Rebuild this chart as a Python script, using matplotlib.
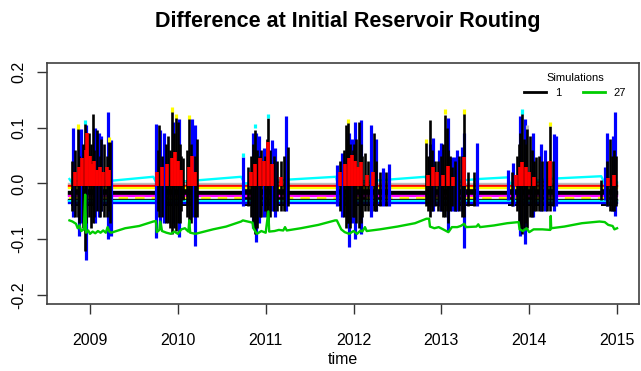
import matplotlib
matplotlib.use('Agg')
import matplotlib.pyplot as plt
from matplotlib.lines import Line2D

plt.rcParams['font.family'] = ['Liberation Sans', 'DejaVu Sans']

# R default palette
black, red, green3, blue = 'black', '#FF0000', '#00CD00', '#0000FF'
cyan, magenta, yellow, gray = '#00FFFF', '#FF00FF', '#FFFF00', '#BEBEBE'

years = [2009, 2010, 2011, 2012, 2013, 2014, 2015]
yticks = [-0.2, -0.1, 0.0, 0.1, 0.2]
t_first, t_last = 2008.766, 2015.0

# simulations that stay nearly flat
flat_levels = [-0.001, -0.005, -0.008, -0.015, -0.019, -0.023, -0.026, -0.029, -0.032, -0.035]
flat_colors = [gray, red, yellow, black, black, magenta, yellow, black, cyan, blue]

# upper cyan simulation
cyan_t = [2008.766, 2008.80, 2009.25, 2009.72, 2009.76, 2010.25, 2010.72, 2010.76, 2011.26,
          2011.80, 2011.82, 2012.40, 2012.82, 2012.84, 2013.42, 2013.76, 2013.78, 2014.30,
          2014.82, 2014.86, 2015.0]
cyan_v = [0.008, 0.0, 0.005, 0.012, 0.0, 0.006, 0.012, 0.0, 0.007,
          0.012, 0.0, 0.007, 0.012, 0.0, 0.008, 0.011, 0.0, 0.009,
          0.013, 0.0, 0.002]

# wet season periods
event_start = [2008.78, 2009.74, 2010.74, 2011.80, 2012.82, 2013.76, 2014.82]
event_end = [2009.245, 2010.23, 2011.26, 2012.41, 2013.41, 2014.31, 2015.0]
red_start = [2008.82, 2009.75, 2010.80, 2011.84, 2012.84, 2013.84, 2014.88]
red_end = [2009.24, 2010.22, 2011.20, 2012.25, 2013.27, 2014.25, 2014.99]

# spikes: (time, top, bottom)
blue_spikes = [
    (2008.81, 0.099, -0.06), (2008.87, 0.095, -0.094), (2008.90, 0.097, -0.07),
    (2008.95, 0.105, -0.136), (2009.06, 0.100, -0.07), (2009.10, 0.090, -0.06),
    (2009.125, 0.085, -0.05), (2009.20, 0.128, -0.100), (2009.24, 0.078, -0.093),
    (2009.75, 0.107, -0.098), (2009.80, 0.095, -0.08), (2009.84, 0.090, -0.07),
    (2009.95, 0.110, -0.07), (2010.01, 0.115, -0.096), (2010.16, 0.115, -0.06),
    (2010.20, 0.105, -0.111),
    (2010.74, 0.048, -0.04), (2010.85, 0.090, -0.08), (2010.89, 0.090, -0.105),
    (2010.92, 0.085, -0.07), (2010.98, 0.064, -0.06), (2011.07, 0.078, -0.05),
    (2011.11, 0.064, -0.06), (2011.23, 0.120, -0.05),
    (2011.81, 0.033, -0.04), (2011.87, 0.055, -0.06), (2011.95, 0.090, -0.113),
    (2011.98, 0.079, -0.07), (2012.02, 0.110, -0.100), (2012.08, 0.113, -0.09),
    (2012.20, 0.105, -0.06), (2012.26, 0.080, -0.05), (2012.34, 0.028, -0.04),
    (2012.40, 0.034, -0.04),
    (2012.87, 0.070, -0.04), (2012.91, 0.081, -0.05), (2012.97, 0.060, -0.04),
    (2013.00, 0.073, -0.05), (2013.08, 0.117, -0.085), (2013.12, 0.048, -0.05),
    (2013.15, 0.048, -0.05), (2013.18, 0.060, -0.05), (2013.23, 0.066, -0.05),
    (2013.26, 0.090, -0.115), (2013.40, 0.072, -0.04),
    (2013.76, 0.025, -0.03), (2013.82, 0.036, -0.04), (2013.89, 0.120, -0.094),
    (2013.95, 0.115, -0.109), (2014.04, 0.090, -0.06), (2014.13, 0.070, -0.05),
    (2014.18, 0.060, -0.05), (2014.28, 0.088, -0.05), (2014.31, 0.085, -0.04),
    (2014.86, 0.030, -0.03), (2014.89, 0.090, -0.04), (2014.95, 0.085, -0.05),
    (2014.975, 0.128, -0.059),
]
black_spikes = [
    (2008.80, 0.040, -0.05), (2008.86, 0.102, -0.06), (2008.92, 0.070, -0.08),
    (2008.945, 0.111, -0.121), (2008.99, 0.090, -0.06), (2009.03, 0.125, -0.07),
    (2009.08, 0.095, -0.05), (2009.16, 0.070, -0.06), (2009.22, 0.080, -0.05),
    (2009.23, 0.075, -0.07),
    (2009.79, 0.105, -0.06), (2009.89, 0.085, -0.07), (2009.935, 0.132, -0.09),
    (2009.975, 0.120, -0.085), (2010.00, 0.110, -0.07), (2010.06, 0.045, -0.03),
    (2010.125, 0.118, -0.07), (2010.22, 0.080, -0.06),
    (2010.80, 0.030, -0.04), (2010.88, 0.095, -0.09), (2010.95, 0.060, -0.06),
    (2011.03, 0.117, -0.07), (2011.09, 0.050, -0.05), (2011.17, 0.040, -0.05),
    (2011.25, 0.066, -0.04),
    (2011.91, 0.105, -0.08), (2011.94, 0.110, -0.07), (2012.00, 0.070, -0.06),
    (2012.06, 0.110, -0.08), (2012.13, 0.055, -0.05), (2012.23, 0.090, -0.05),
    (2012.30, 0.020, -0.04),
    (2012.83, 0.075, -0.04), (2012.87, 0.114, -0.06), (2012.93, 0.040, -0.04),
    (2013.04, 0.123, -0.06), (2013.06, 0.100, -0.05), (2013.12, 0.030, -0.04),
    (2013.26, 0.128, -0.06),
    (2013.86, 0.050, -0.05), (2013.92, 0.128, -0.09), (2013.975, 0.100, -0.08),
    (2014.01, 0.085, -0.06), (2014.08, 0.048, -0.05), (2014.24, 0.102, -0.05),
    (2014.82, 0.007, -0.03), (2014.92, 0.080, -0.05), (2014.99, 0.049, -0.04),
]
# shorter black strokes that fill the body of each wet season
black_body = [
    (2008.83, 0.06, -0.06), (2008.88, 0.05, -0.07), (2008.96, 0.08, -0.07), (2009.01, 0.07, -0.08),
    (2009.05, 0.06, -0.06), (2009.11, 0.05, -0.06), (2009.13, 0.08, -0.05), (2009.19, 0.05, -0.06),
    (2009.77, 0.06, -0.05), (2009.82, 0.05, -0.06), (2009.86, 0.07, -0.07), (2009.91, 0.06, -0.08),
    (2009.955, 0.09, -0.08), (2010.02, 0.07, -0.07), (2010.04, 0.05, -0.05), (2010.10, 0.06, -0.06),
    (2010.15, 0.07, -0.07), (2010.19, 0.05, -0.06),
    (2010.83, 0.05, -0.06), (2010.86, 0.07, -0.07), (2010.90, 0.06, -0.08), (2010.93, 0.05, -0.06),
    (2010.99, 0.05, -0.05), (2011.01, 0.08, -0.06), (2011.05, 0.06, -0.06), (2011.13, 0.04, -0.05),
    (2011.21, 0.05, -0.05),
    (2011.85, 0.04, -0.05), (2011.89, 0.06, -0.06), (2011.925, 0.08, -0.07), (2011.96, 0.07, -0.08),
    (2011.99, 0.06, -0.06), (2012.03, 0.08, -0.07), (2012.08, 0.07, -0.07), (2012.10, 0.05, -0.06),
    (2012.17, 0.04, -0.05), (2012.26, 0.04, -0.05), (2012.37, 0.02, -0.04),
    (2012.85, 0.05, -0.05), (2012.89, 0.06, -0.05), (2012.96, 0.04, -0.05), (2013.00, 0.05, -0.05),
    (2013.02, 0.07, -0.06), (2013.08, 0.06, -0.07), (2013.10, 0.05, -0.05), (2013.16, 0.04, -0.05),
    (2013.20, 0.05, -0.05), (2013.24, 0.05, -0.06), (2013.30, 0.02, -0.04), (2013.37, 0.02, -0.04),
    (2013.80, 0.02, -0.04), (2013.88, 0.07, -0.07), (2013.90, 0.09, -0.08), (2013.94, 0.08, -0.08),
    (2013.96, 0.07, -0.07), (2014.03, 0.06, -0.06), (2014.06, 0.04, -0.05), (2014.11, 0.05, -0.05),
    (2014.15, 0.04, -0.05), (2014.20, 0.04, -0.05), (2014.27, 0.04, -0.04),
    (2014.88, 0.04, -0.04), (2014.94, 0.05, -0.05), (2014.96, 0.06, -0.05),
]
red_spikes = [
    (2008.83, 0.020), (2008.87, 0.030), (2008.91, 0.045), (2008.95, 0.060), (2008.97, 0.090),
    (2009.00, 0.050), (2009.02, 0.035), (2009.05, 0.040), (2009.08, 0.025), (2009.11, 0.030),
    (2009.15, 0.020), (2009.19, 0.030), (2009.22, 0.025),
    (2009.76, 0.020), (2009.82, 0.030), (2009.88, 0.035), (2009.93, 0.045), (2009.97, 0.057),
    (2010.00, 0.040), (2010.04, 0.025), (2010.13, 0.030), (2010.16, 0.050), (2010.20, 0.020),
    (2010.83, 0.020), (2010.88, 0.035), (2010.93, 0.045), (2010.98, 0.040), (2011.03, 0.075),
    (2011.07, 0.035), (2011.17, 0.012),
    (2011.85, 0.020), (2011.90, 0.035), (2011.95, 0.045), (2011.98, 0.051), (2012.02, 0.040),
    (2012.05, 0.030), (2012.08, 0.038), (2012.15, 0.015), (2012.22, 0.020),
    (2012.85, 0.015), (2012.91, 0.030), (2012.95, 0.020), (2013.02, 0.015), (2013.08, 0.032),
    (2013.13, 0.012), (2013.26, 0.048),
    (2013.85, 0.015), (2013.90, 0.030), (2013.92, 0.039), (2013.96, 0.030), (2014.00, 0.020),
    (2014.05, 0.012), (2014.24, 0.040),
    (2014.90, 0.010), (2014.97, 0.016),
]
# coloured tips poking out above the black spikes: (time, top, colour)
tips = [
    (2008.86, 0.106, yellow), (2008.945, 0.114, cyan), (2009.22, 0.083, yellow),
    (2009.935, 0.136, yellow), (2009.975, 0.125, yellow), (2010.125, 0.123, yellow),
    (2010.74, 0.055, cyan), (2010.88, 0.107, cyan), (2011.03, 0.125, cyan),
    (2011.94, 0.116, yellow), (2012.83, 0.080, yellow), (2013.04, 0.133, yellow),
    (2013.26, 0.133, yellow), (2013.92, 0.133, cyan), (2013.975, 0.105, gray),
    (2014.24, 0.110, yellow),
]

# simulation 27
green_t = [2008.766, 2008.80, 2008.84, 2008.86, 2008.88, 2008.90, 2008.93, 2008.945, 2008.955,
           2008.98, 2009.00, 2009.03, 2009.06, 2009.09, 2009.12, 2009.15, 2009.18, 2009.20,
           2009.22, 2009.24, 2009.30, 2009.40, 2009.56, 2009.72,
           2009.75, 2009.76, 2009.79, 2009.80, 2009.82, 2009.87, 2009.92, 2009.96, 2010.00,
           2010.04, 2010.08, 2010.12, 2010.13, 2010.14, 2010.20, 2010.25, 2010.40, 2010.55, 2010.72,
           2010.74, 2010.85, 2010.86, 2010.90, 2010.95, 2011.00, 2011.03, 2011.04, 2011.10,
           2011.15, 2011.20, 2011.22, 2011.24, 2011.40, 2011.60, 2011.79,
           2011.81, 2011.86, 2011.90, 2011.95, 2012.00, 2012.04, 2012.08, 2012.10, 2012.13,
           2012.15, 2012.30, 2012.50, 2012.70, 2012.83,
           2012.86, 2012.87, 2012.92, 2012.97, 2013.02, 2013.08, 2013.12, 2013.18, 2013.22,
           2013.26, 2013.28, 2013.40, 2013.42, 2013.44, 2013.60, 2013.75,
           2013.88, 2013.89, 2013.93, 2013.97, 2014.00, 2014.05, 2014.15, 2014.24, 2014.245,
           2014.25, 2014.40, 2014.60, 2014.80,
           2014.86, 2014.90, 2014.95, 2014.97, 2015.00]
green_v = [-0.066, -0.068, -0.072, -0.080, -0.075, -0.085, -0.082, -0.020, -0.088,
           -0.084, -0.090, -0.086, -0.089, -0.085, -0.088, -0.084, -0.088, -0.078,
           -0.086, -0.088, -0.085, -0.080, -0.076, -0.068,
           -0.067, -0.087, -0.083, -0.068, -0.085, -0.088, -0.090, -0.086, -0.090,
           -0.082, -0.080, -0.086, -0.066, -0.088, -0.090, -0.088, -0.082, -0.077, -0.068,
           -0.066, -0.070, -0.080, -0.090, -0.085, -0.088, -0.050, -0.086, -0.085,
           -0.083, -0.084, -0.078, -0.084, -0.080, -0.074, -0.066,
           -0.066, -0.082, -0.087, -0.090, -0.085, -0.090, -0.084, -0.086, -0.078,
           -0.085, -0.082, -0.077, -0.071, -0.063,
           -0.063, -0.077, -0.080, -0.078, -0.082, -0.087, -0.078, -0.078, -0.076,
           -0.072, -0.078, -0.077, -0.073, -0.078, -0.075, -0.071,
           -0.069, -0.082, -0.085, -0.080, -0.087, -0.082, -0.082, -0.083, -0.058,
           -0.080, -0.077, -0.071, -0.068,
           -0.069, -0.074, -0.076, -0.082, -0.080]

fig = plt.figure(figsize=(6.41, 3.71), dpi=100)
ax = fig.add_axes([0.0741, 0.1798, 0.9228, 0.6512])

lw = 1.7
for lev, col in zip(flat_levels, flat_colors):
    ls = (0, (4, 3)) if col == yellow and lev < -0.02 else '-'
    ax.plot([t_first, t_last], [lev, lev], color=col, lw=lw, ls=ls)
ax.plot(cyan_t, cyan_v, color=cyan, lw=lw)

bt, btop, bbot = zip(*blue_spikes)
ax.vlines(bt, bbot, btop, color=blue, lw=2.3)
for s, e in zip(event_start, event_end):
    ax.fill_between([s, e], -0.040, 0.0, color=black, lw=0)
kt, ktop, kbot = zip(*(black_spikes + black_body))
ax.vlines(kt, kbot, ktop, color=black, lw=1.9)
for s, e in zip(red_start, red_end):
    ax.fill_between([s, e], -0.004, 0.006, color=red, lw=0)
rt, rtop = zip(*red_spikes)
ax.vlines(rt, [-0.004] * len(rt), rtop, color=red, lw=2.6)
for t, top, col in tips:
    ax.vlines(t, top - 0.008, top, color=col, lw=2.3)
ax.plot(green_t, green_v, color=green3, lw=lw)

ax.set_xlim(2008.516, 2015.25)
ax.set_ylim(-0.216, 0.216)
ax.set_xticks(years)
ax.set_xticklabels([str(y) for y in years])
ax.set_yticks(yticks)
ax.set_yticklabels(['-0.2', '-0.1', '0.0', '0.1', '0.2'])
ax.tick_params(axis='both', length=7.5, width=1, color='#333333', labelsize=11.5)
ax.tick_params(axis='x', pad=13)
ax.tick_params(axis='y', pad=8)
plt.setp(ax.get_yticklabels(), rotation=90, va='center')
for sp in ax.spines.values():
    sp.set_color('#404040')
    sp.set_linewidth(1.2)

ax.set_xlabel('time', fontsize=11.5, labelpad=3)
fig.text(0.542, 0.943, 'Difference at Initial Reservoir Routing', fontsize=15.5,
         fontweight='bold', ha='center', va='center')

handles = [Line2D([], [], color=black, lw=2), Line2D([], [], color=green3, lw=2)]
leg = ax.legend(handles, ['1', '27'], title='Simulations', ncol=2, frameon=False,
                fontsize=8, title_fontsize=8, loc='upper right', bbox_to_anchor=(0.995, 1.0),
                handlelength=2.0, columnspacing=1.9, handletextpad=0.8)

fig.savefig('out.png', dpi=100)
